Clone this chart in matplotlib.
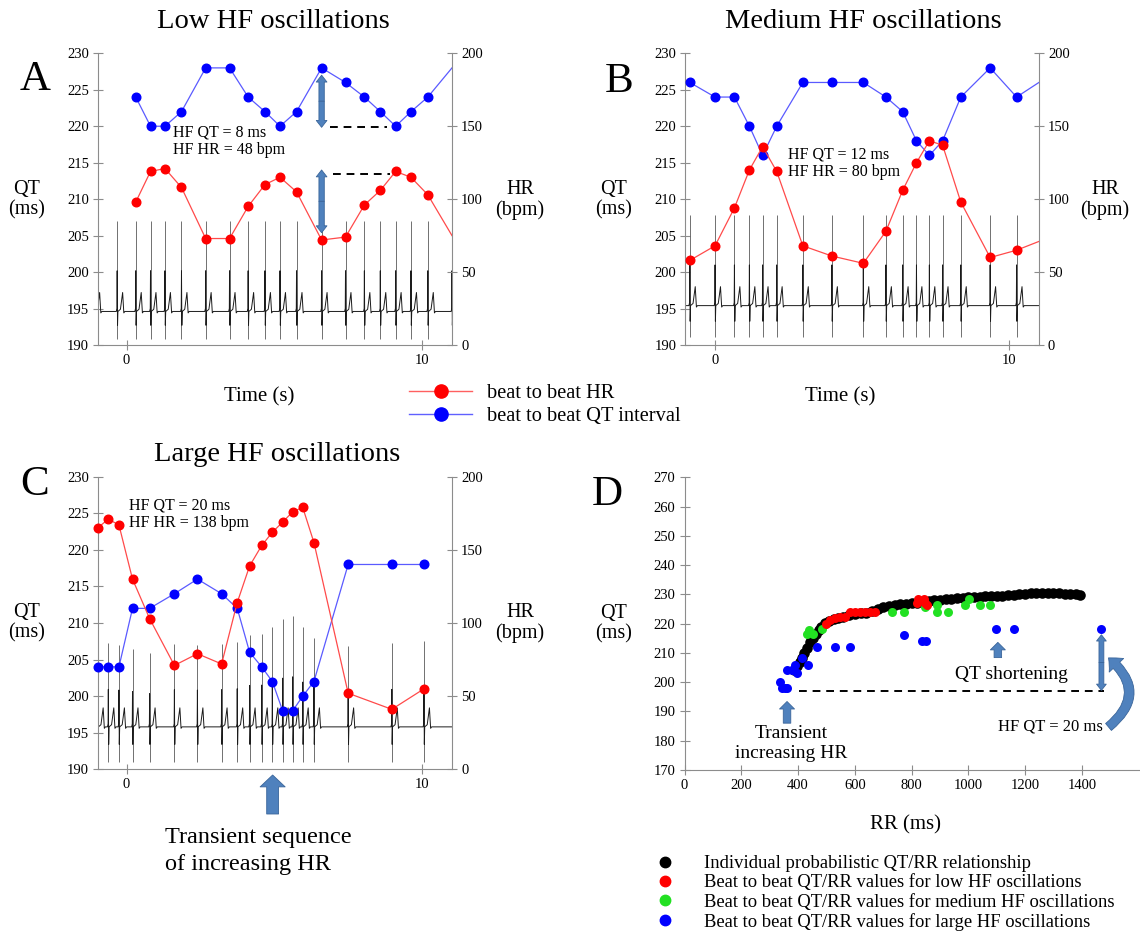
import numpy as np
import matplotlib.pyplot as plt
from matplotlib.lines import Line2D
from matplotlib.patches import FancyArrowPatch

plt.rcParams['font.family'] = ['Liberation Serif', 'DejaVu Serif']
plt.rcParams['axes.linewidth'] = 0.8

W, H = 1140, 933
GRAY = '0.55'
ARROW_FC = '#4f81bd'
ARROW_EC = '#3a659a'

# ---------------- data ----------------
# Panel A - low HF oscillations (last value = where the line leaves the axes)
time_a = [0.31, 0.81, 1.30, 1.86, 2.68, 3.49, 4.12, 4.69, 5.20, 5.76,
          6.61, 7.42, 8.06, 8.60, 9.12, 9.64, 10.21, 11.03]
qt_a = [224, 220, 220, 222, 228, 228, 224, 222, 220, 222,
        228, 226, 224, 222, 220, 222, 224, 228]
hr_a = [98, 119, 121, 108, 73, 73, 95, 110, 115, 105,
        72, 74, 96, 106, 119, 115, 103, 75]
extra_beats_a = [-1.1, -0.32]

# Panel B - medium HF oscillations
time_b = [-0.86, 0.0, 0.66, 1.17, 1.62, 2.10, 2.99, 3.98, 5.05, 5.82,
          6.39, 6.86, 7.30, 7.75, 8.37, 9.37, 10.27, 11.03]
qt_b = [226, 224, 224, 220, 216, 220, 226, 226, 226, 224,
        222, 218, 216, 218, 224, 228, 224, 226]
hr_b = [58, 68, 94, 120, 136, 119, 68, 61, 56, 78,
        106, 125, 140, 137, 98, 60, 65, 71]

# Panel C - large HF oscillations
time_c = [-0.98, -0.62, -0.26, 0.20, 0.78, 1.62, 2.40, 3.22, 3.75, 4.17,
          4.58, 4.94, 5.29, 5.63, 5.97, 6.35, 7.51, 8.99, 10.08]
qt_c = [204, 204, 204, 212, 212, 214, 216, 214, 212, 206,
        204, 202, 198, 198, 200, 202, 218, 218, 218]
hr_c = [165, 171, 167, 130, 103, 71, 79, 72, 114, 139,
        153, 162, 169, 176, 179, 155, 52, 41, 55]
r_peak_c = [207.0, 207.2, 207.0, 206.5, 205.9, 207.1, 207.0, 207.1, 207.4, 208.4,
            208.5, 209.5, 210.6, 211.0, 209.4, 207.9, 206.8, 207.2, 207.5]

# ECG levels (in QT-axis units): baseline, R peak, S trough
ecg_a = (194.6, 207.0, 190.8)
ecg_b = (195.4, 207.8, 191.1)
ecg_c = (195.8, r_peak_c, 191.0)

# Panel D - QT/RR
rr_black = [386, 395, 405, 413, 422, 432, 442, 452, 462, 472, 482, 495, 510, 525,
            540, 560, 580, 600, 620, 640, 660, 680, 700, 720, 740, 760, 780, 800,
            820, 840, 860, 880, 900, 920, 940, 960, 980, 1000, 1020, 1040, 1060,
            1080, 1100, 1120, 1140, 1160, 1180, 1200, 1220, 1240, 1260, 1280, 1300,
            1320, 1340, 1360, 1380, 1393]
qt_black = [204.0, 205.5, 207.0, 208.2, 210.0, 211.8, 213.6, 215.0, 216.4, 217.8,
            219.0, 220.2, 221.0, 221.6, 222.0, 222.4, 222.8, 223.2, 223.5, 223.8,
            224.3, 225.0, 225.6, 226.0, 226.4, 226.6, 226.8, 227.0, 227.2, 227.4,
            227.6, 228.0, 228.2, 228.4, 228.5, 228.6, 228.8, 229.0, 229.1, 229.2,
            229.3, 229.4, 229.5, 229.6, 229.7, 229.8, 230.0, 230.2, 230.4, 230.5,
            230.6, 230.6, 230.5, 230.4, 230.3, 230.2, 230.0, 229.9]
rr_red = [498, 513, 530, 548, 565, 583, 600, 618, 636, 654, 671, 818, 824, 842, 848, 853]
qt_red = [219.9, 221.2, 221.8, 222.4, 222.4, 224.1, 224.1, 224.1, 224.1, 224.1, 224.1,
          227.0, 228.3, 228.3, 227.0, 226.5]
rr_green = [433, 440, 452, 483, 730, 773, 846, 889, 889, 930, 988, 1004, 1041, 1077]
qt_green = [216.5, 217.8, 216.5, 218.1, 224.1, 224.1, 225.8, 226.4, 224.1, 224.1,
            226.4, 228.3, 226.4, 226.4]
rr_blue = [336, 344, 354, 361, 360, 378, 389, 395, 413, 436, 466, 530, 583, 773,
           836, 851, 1098, 1161, 1469]
qt_blue = [200.2, 197.9, 197.9, 197.9, 204.2, 204.2, 205.9, 203.0, 208.2, 205.9,
           212.1, 212.1, 212.1, 216.1, 214.2, 214.2, 218.1, 218.1, 218.1]

legend_mid = ['beat to beat HR', 'beat to beat QT interval']
legend_d = ['Individual probabilistic QT/RR relationship',
            'Beat to beat QT/RR values for low HF oscillations',
            'Beat to beat QT/RR values for medium HF oscillations',
            'Beat to beat QT/RR values for large HF oscillations']

# ---------------- helpers ----------------
fig = plt.figure(figsize=(W / 100, H / 100), dpi=100)


def px_axes(x0, y0, x1, y1):
    return fig.add_axes([x0 / W, 1 - y1 / H, (x1 - x0) / W, (y1 - y0) / H])


def ftext(x, y, s, **kw):
    kw.setdefault('ha', 'center')
    kw.setdefault('va', 'center')
    fig.text(x / W, 1 - y / H, s, **kw)


# offsets (s) of a simple QRS-T shape around each beat
ecg_dt = np.array([-0.03, -0.008, 0.0, 0.012, 0.025, 0.11, 0.185, 0.225, 0.26])


def ecg_trace(beats, base, peak, low):
    beats = np.asarray(beats, float)
    peak = np.broadcast_to(np.asarray(peak, float), beats.shape)
    tt, yy = [-3.0], [base]
    for b, hi in zip(beats, peak):
        r = base + 0.45 * (hi - base)
        s = base - 0.5 * (base - low)
        tt += list(b + ecg_dt)
        yy += [base, base + 0.4, r, s, base, base + 0.3, base + 2.6, base - 0.2, base]
    tt.append(14.0)
    yy.append(base)
    return tt, yy


def style_axis(ax):
    ax.tick_params(axis='both', direction='inout', length=7, width=0.8,
                   color=GRAY, labelsize=10.5, pad=3)
    for sp in ax.spines.values():
        sp.set_color(GRAY)
    ax.spines['top'].set_visible(False)


def time_panel(rect, xlim, t, qt, hr, beats, ecg, edge):
    base, peak, low = ecg
    ax = px_axes(*rect)
    ax.set_xlim(*xlim)
    ax.set_ylim(190, 230)
    ax.set_yticks(range(190, 231, 5))
    ax.set_xticks([0, 10])
    peak_arr = np.broadcast_to(np.asarray(peak, float), np.shape(beats))
    ax.vlines(beats, low, peak_arr, color='0.35', lw=0.6)
    et, ey = ecg_trace(beats, base, peak, low)
    ax.plot(et, ey, color='0.1', lw=0.7)
    n = len(t) - 1 if edge else len(t)
    ax.plot(t, qt, color='#5a5aff', lw=0.9, zorder=3)
    ax.plot(t[:n], qt[:n], 'o', color='blue', ms=6.2, clip_on=False, zorder=4)
    ax.spines['right'].set_visible(False)
    style_axis(ax)

    ax2 = ax.twinx()
    ax2.set_ylim(0, 200)
    ax2.set_yticks(range(0, 201, 50))
    ax2.plot(t, hr, color='#ff4a4a', lw=0.9, zorder=3)
    ax2.plot(t[:n], hr[:n], 'o', color='red', ms=6.2, clip_on=False, zorder=4)
    ax2.spines['left'].set_visible(False)
    ax2.spines['bottom'].set_visible(False)
    style_axis(ax2)
    return ax, ax2


def double_arrow(ax, x, y0, y1, ms=11):
    mid = (y0 + y1) / 2
    for end in (y0, y1):
        ax.annotate('', xy=(x, end), xytext=(x, mid),
                    arrowprops=dict(arrowstyle='simple,head_length=0.45,head_width=0.7,tail_width=0.35',
                                    fc=ARROW_FC, ec=ARROW_EC, lw=0.6,
                                    shrinkA=0, shrinkB=0, mutation_scale=ms),
                    annotation_clip=False)


def block_arrow(ax, xy, xytext, ms):
    ax.annotate('', xy=xy, xytext=xytext,
                arrowprops=dict(arrowstyle='simple,head_length=0.45,head_width=0.9,tail_width=0.45',
                                fc=ARROW_FC, ec=ARROW_EC, lw=0.6,
                                shrinkA=0, shrinkB=0, mutation_scale=ms),
                annotation_clip=False)


# ---------------- panel A ----------------
axA, axA2 = time_panel((98, 53.3, 452, 345), (-0.97, 11.03), time_a, qt_a, hr_a,
                       extra_beats_a + time_a, ecg_a, edge=True)
axA.text(1.56, 217.9, 'HF QT = 8 ms\nHF HR = 48 bpm', fontsize=11.5,
         va='center', ha='left', linespacing=1.1)
double_arrow(axA, 6.61, 227.0, 219.85)
double_arrow(axA, 6.61, 214.0, 205.4)
axA.plot([6.89, 8.81], [219.85, 219.85], color='k', lw=1.4, dashes=(4, 3))
axA.plot([7.0, 8.93], [213.5, 213.5], color='k', lw=1.4, dashes=(4, 3))

# ---------------- panel B ----------------
axB, axB2 = time_panel((685.4, 53.3, 1038.9, 345), (-1.01, 11.03), time_b, qt_b, hr_b,
                       time_b[:-1], ecg_b, edge=True)
axB.text(2.49, 214.9, 'HF QT = 12 ms\nHF HR = 80 bpm', fontsize=11.5,
         va='center', ha='left', linespacing=1.1)

# ---------------- panel C ----------------
axC, axC2 = time_panel((98, 476.7, 452, 769.3), (-0.97, 11.03), time_c, qt_c, hr_c,
                       time_c, ecg_c, edge=False)
axC.text(0.09, 224.85, 'HF QT = 20 ms\nHF HR = 138 bpm', fontsize=11.5,
         va='center', ha='left', linespacing=1.1)
axC.annotate('', xy=(4.95, 1 - 775 / H), xytext=(4.95, 1 - 814 / H),
             xycoords=('data', 'figure fraction'), textcoords=('data', 'figure fraction'),
             arrowprops=dict(arrowstyle='simple,head_length=0.45,head_width=0.95,tail_width=0.45',
                             fc=ARROW_FC, ec=ARROW_EC, lw=0.6, shrinkA=0, shrinkB=0,
                             mutation_scale=19),
             annotation_clip=False)

# ---------------- panel D ----------------
axD = px_axes(684.6, 477.3, 1140, 770)
axD.set_xlim(0, 1605)
axD.set_ylim(170, 270)
axD.set_xticks(range(0, 1401, 200))
axD.set_yticks(range(170, 271, 10))
axD.spines['right'].set_visible(False)
style_axis(axD)
axD.scatter(rr_black, qt_black, s=58, color='black', lw=0, zorder=3)
axD.scatter(rr_green, qt_green, s=42, color='#22e022', lw=0, zorder=4)
axD.scatter(rr_red, qt_red, s=42, color='red', lw=0, zorder=5)
axD.scatter(rr_blue, qt_blue, s=42, color='blue', lw=0, zorder=6, clip_on=False)
axD.plot([402, 1479], [197, 197], color='k', lw=1.4, dashes=(4, 3))
double_arrow(axD, 1469, 216.2, 197.2, ms=10)
block_arrow(axD, (1104, 213.6), (1104, 208.4), ms=12)
block_arrow(axD, (361, 193.4), (361, 186.0), ms=12)
axD.text(1153, 202.5, 'QT shortening', fontsize=14, ha='center', va='center')
axD.text(375, 179.1, 'Transient\nincreasing HR', fontsize=14, ha='center', va='center',
         linespacing=1.25)
axD.text(1475, 184.7, 'HF QT = 20 ms', fontsize=12, ha='right', va='center')
curve = FancyArrowPatch((1494, 184.7), (1494, 208.3), connectionstyle='arc3,rad=0.6',
                        arrowstyle='simple,head_length=0.6,head_width=1.1,tail_width=0.5',
                        mutation_scale=13, fc=ARROW_FC, ec=ARROW_EC, lw=0.6,
                        shrinkA=0, shrinkB=0, clip_on=False)
axD.add_patch(curve)

# ---------------- figure texts ----------------
ftext(273, 22, 'Low HF oscillations', fontsize=20.5)
ftext(863, 22, 'Medium HF oscillations', fontsize=20.5)
ftext(277, 455, 'Large HF oscillations', fontsize=20.5)
ftext(35, 80, 'A', fontsize=31)
ftext(619, 82, 'B', fontsize=31)
ftext(35, 485, 'C', fontsize=31)
ftext(607, 495, 'D', fontsize=31)
for x, y in [(27, 200), (614, 200), (27, 623), (614, 624)]:
    ftext(x, y, 'QT\n(ms)', fontsize=14.5, linespacing=1.1)
for x, y in [(520, 200), (1105, 200), (520, 623)]:
    ftext(x, y, 'HR\n(bpm)', fontsize=14.5, linespacing=1.1)
ftext(259, 397, 'Time (s)', fontsize=15)
ftext(840, 397, 'Time (s)', fontsize=15)
ftext(905, 825, 'RR (ms)', fontsize=15)
ftext(165, 851, 'Transient sequence\nof increasing HR', fontsize=17.5, ha='left',
      linespacing=1.4)

mid_handles = [Line2D([], [], color='#ff6060', lw=1, marker='o', ms=9.5, mfc='red', mec='red'),
               Line2D([], [], color='#6060ff', lw=1, marker='o', ms=9.5, mfc='blue', mec='blue')]
fig.legend(mid_handles, legend_mid, loc='center left', bbox_to_anchor=(409 / W, 1 - 405 / H),
           frameon=False, fontsize=14.7, handlelength=3.1, handletextpad=0.7,
           labelspacing=0.15, borderpad=0, borderaxespad=0)

d_handles = [Line2D([], [], ls='none', marker='o', ms=7.5, color=c)
             for c in ['black', 'red', '#22e022', 'blue']]
fig.legend(d_handles, legend_d, loc='center left', bbox_to_anchor=(650 / W, 1 - 893 / H),
           frameon=False, fontsize=13.4, handlelength=1.6, handletextpad=1.3,
           labelspacing=0.12, borderpad=0, borderaxespad=0)

fig.savefig('out.png', dpi=100)
